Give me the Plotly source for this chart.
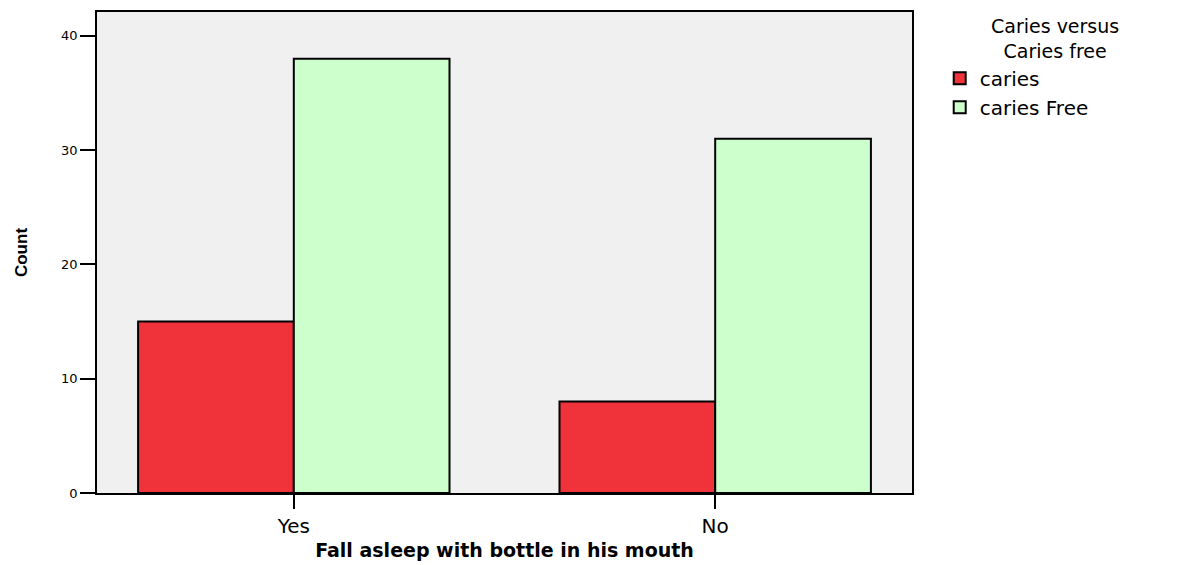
import plotly.graph_objects as go

categories = ["Yes", "No"]
caries = [15, 8]
caries_free = [38, 31]
series_names = ["caries", "caries Free"]
legend_title = "Caries versus<br>Caries free"
y_ticks = [0, 10, 20, 30, 40]

fig = go.Figure()
fig.add_trace(go.Bar(x=categories, y=caries, name=series_names[0],
                     marker=dict(color="#F0323A", line=dict(color="black", width=2))))
fig.add_trace(go.Bar(x=categories, y=caries_free, name=series_names[1],
                     marker=dict(color="#CCFFCC", line=dict(color="black", width=2))))

fig.add_annotation(
    text=legend_title, xref="paper", yref="paper", x=1.1755, y=0.945,
    xanchor="center", yanchor="middle", align="center", showarrow=False,
    font=dict(family="DejaVu Sans", size=19, color="black"),
)

fig.update_layout(
    width=1183, height=565,
    margin=dict(l=89, r=279, t=2, b=80),
    paper_bgcolor="white", plot_bgcolor="#F0F0F0",
    barmode="group", bargap=0.261, bargroupgap=0,
    showlegend=True,
    legend=dict(
        x=1.034, y=0.903, xanchor="left", yanchor="top",
        font=dict(family="DejaVu Sans", size=20, color="black"),
        tracegroupgap=0, itemsizing="constant",
    ),
    xaxis=dict(
        type="category", range=[-0.467, 1.467],
        showgrid=False, ticks="outside", ticklen=14, tickwidth=2, tickcolor="black",
        tickfont=dict(family="DejaVu Sans", size=20, color="black"),
        showline=True, linecolor="black", linewidth=1.5, mirror=True,
        title=dict(text="<b>Fall asleep with bottle in his mouth</b>",
                   font=dict(family="DejaVu Sans", size=19, color="black"), standoff=7),
    ),
    yaxis=dict(
        range=[0, 42.09], tickvals=y_ticks, showgrid=False, zeroline=False,
        ticks="outside", ticklen=15, tickwidth=1.5, tickcolor="black",
        tickfont=dict(family="DejaVu Sans", size=13, color="black"),
        showline=True, linecolor="black", linewidth=1.5, mirror=True,
        title=dict(text="<b>Count</b>",
                   font=dict(family="Liberation Sans", size=17, color="black"),
                   standoff=29),
    ),
)

fig.write_html("out.html")
